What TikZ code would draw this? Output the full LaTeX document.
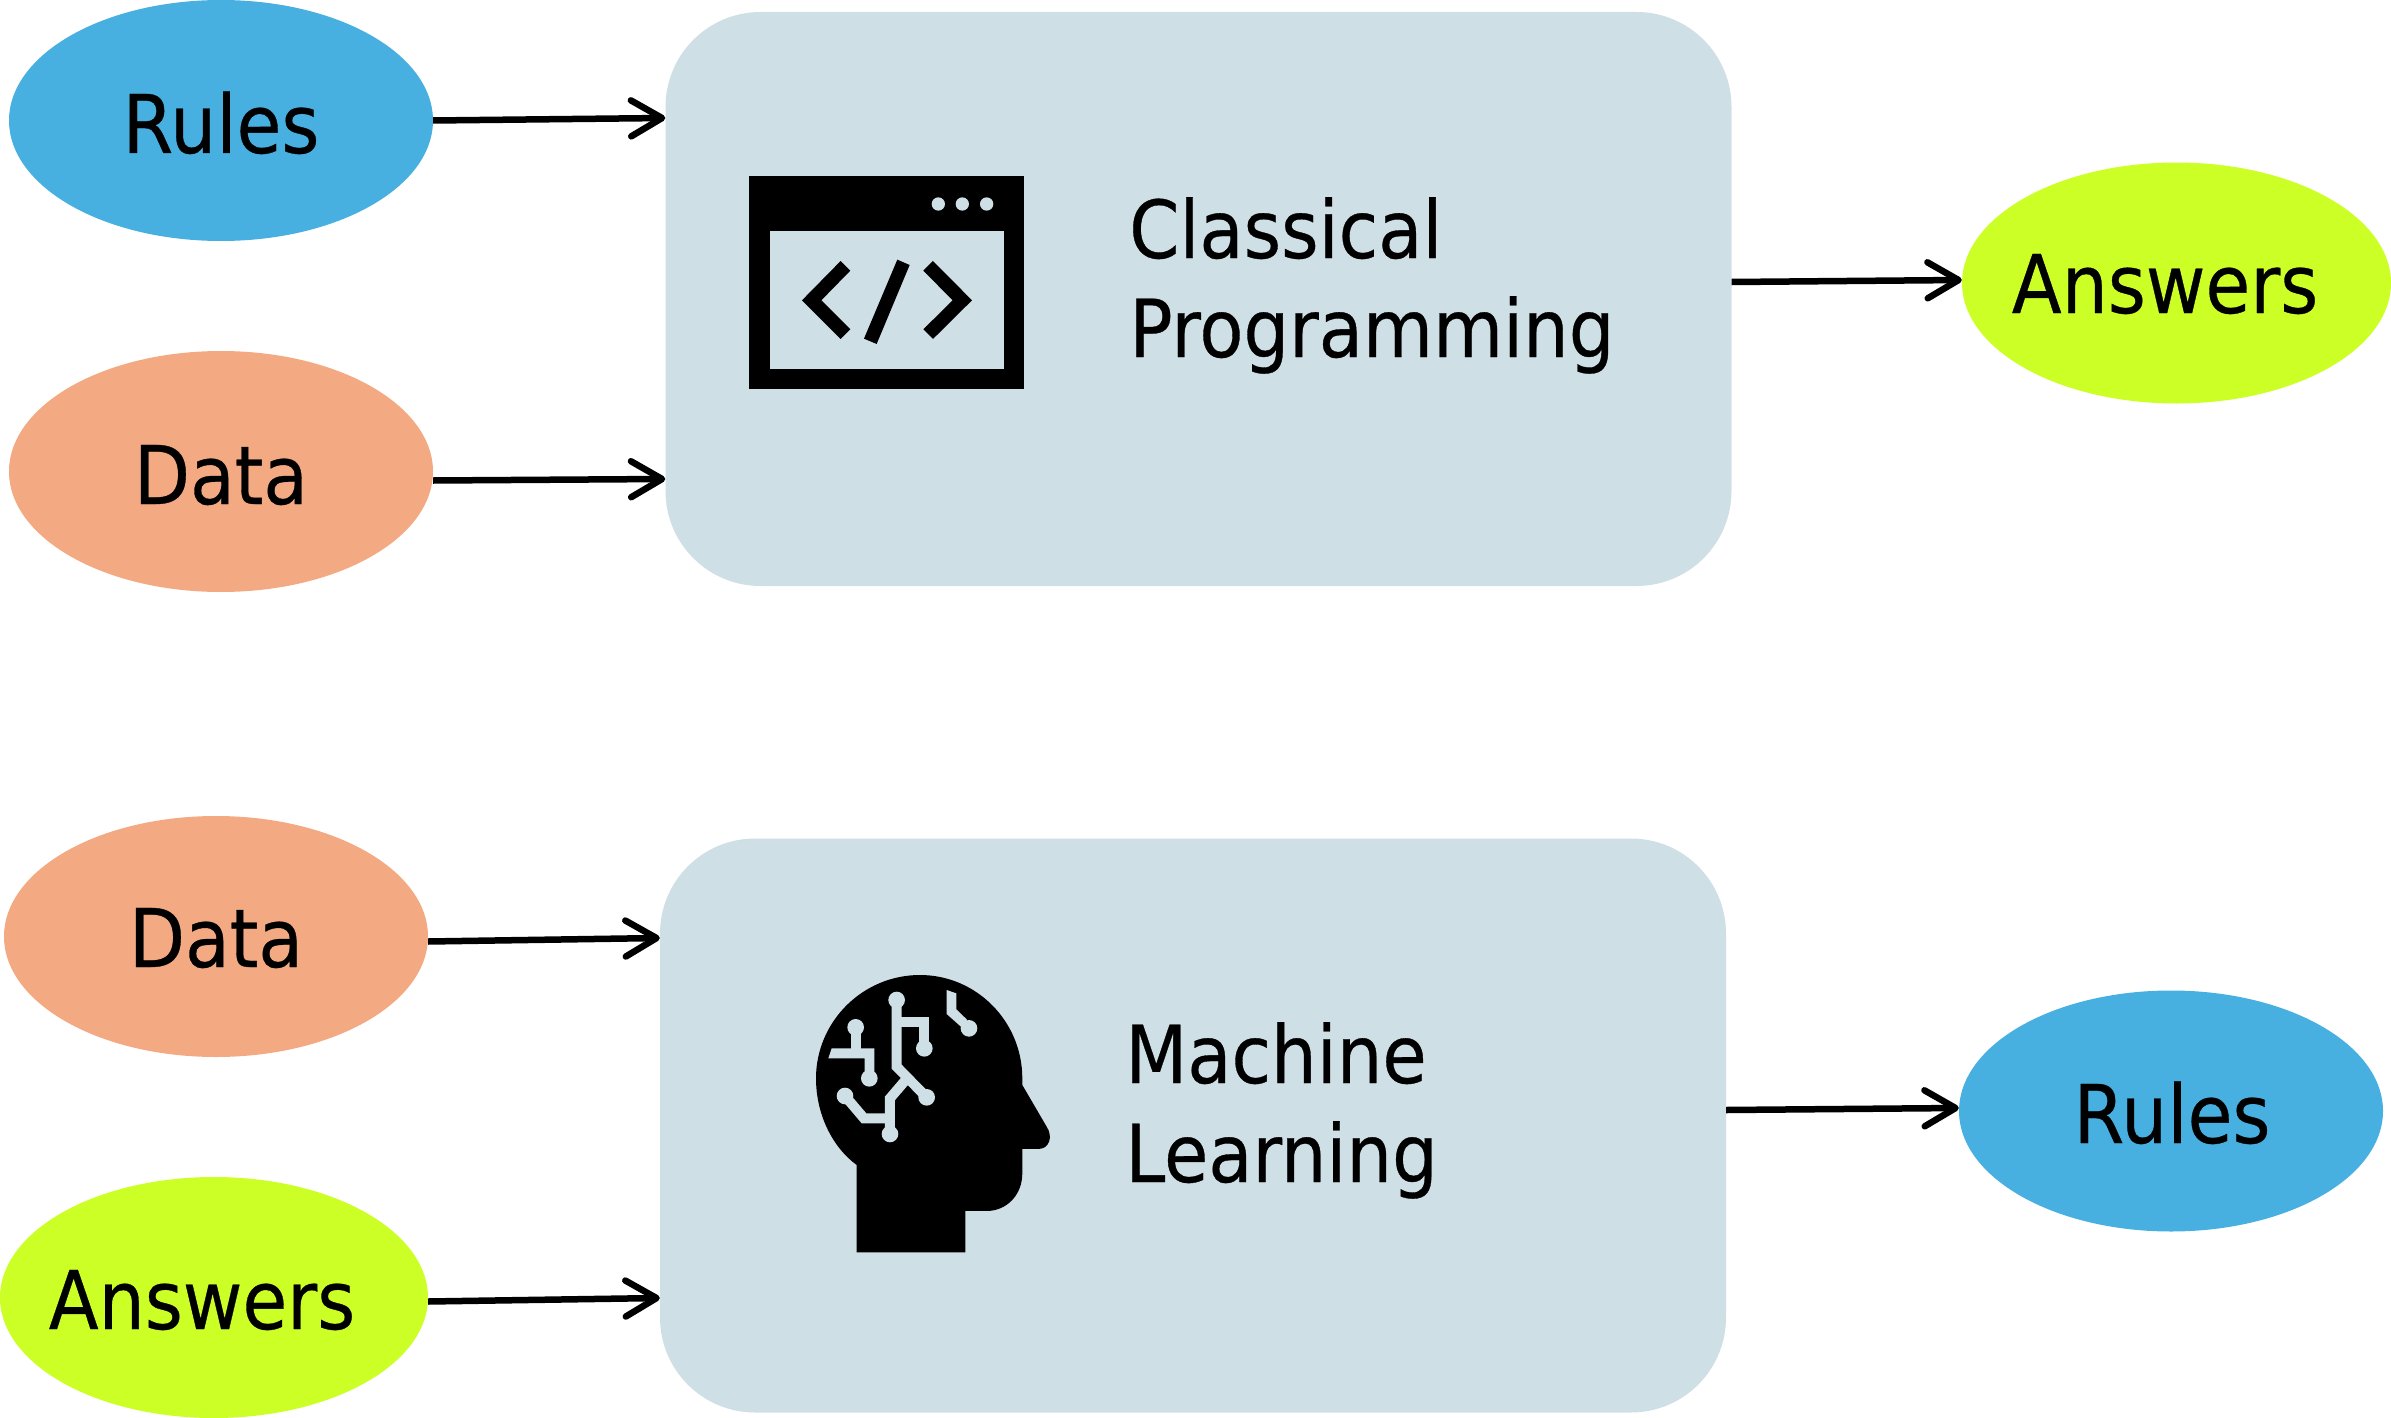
\documentclass[tikz,border=0pt]{standalone}
\usepackage{fontspec}
\setmainfont[FakeStretch=0.9,FakeBold=0.4]{DejaVu Sans}
\usetikzlibrary{shapes.geometric,arrows.meta}
\definecolor{boxc}{HTML}{CFDFE6}
\definecolor{bluec}{HTML}{47B0E0}
\definecolor{orangec}{HTML}{F3AA83}
\definecolor{limec}{HTML}{CCFF26}
\tikzset{
  blob/.style={ellipse,inner sep=0pt,minimum width=424pt,minimum height=241pt},
  panelnode/.style={rectangle,fill=boxc,rounded corners=95pt,minimum width=1066pt,minimum height=574pt,inner sep=0pt},
  lab/.style={anchor=base,inner sep=0pt,font=\fontsize{81}{99}\selectfont},
  multi/.style={anchor=base west,inner sep=0pt,align=left,font=\fontsize{80}{99}\selectfont},
  conn/.style={line width=6.5pt,-{Straight Barb[length=31pt,width=36pt,round]}},
  circ/.style={draw=boxc,line width=10pt,fill=none},
}
\begin{document}
\begin{tikzpicture}[x=1pt,y=-1pt]
\useasboundingbox (0,0) rectangle (2391,1418);
% panels
\node[panelnode] (cp) at (1198.5,299) {};
\node[panelnode] (ml) at (1193,1125.5) {};
% ellipses
\node[blob,fill=bluec] (rulesA) at (221,120.5) {};
\node[blob,fill=orangec] (dataA) at (221,471.5) {};
\node[blob,fill=limec,minimum width=429pt] (ansA) at (2176.5,283) {};
\node[blob,fill=orangec] (dataB) at (216,936.5) {};
\node[blob,fill=limec,minimum width=428pt] (ansB) at (214,1297.5) {};
\node[blob,fill=bluec] (rulesB) at (2171,1111) {};
% labels
\node[lab] (tRulesA) at (221,153) {Rules};
\node[lab] (tDataA) at (221,504) {Data};
\node[lab] (tAnsA) at (2165,313) {Answers};
\node[lab] (tDataB) at (216,967) {Data};
\node[lab] (tAnsB) at (202,1329) {Answers};
\node[lab] (tRulesB) at (2172,1143) {Rules};
\node[multi] (tCP) at (1129,357) {Classical\\Programming};
\node[multi] (tML) at (1125,1182) {Machine\\Learning};
% connector ends
\coordinate (cpR) at (cp.west |- 0,118);
\coordinate (cpD) at (cp.west |- 0,479);
\coordinate (mlD) at (ml.west |- 0,938);
\coordinate (mlA) at (ml.west |- 0,1298);
\draw[conn] (rulesA.east) -- (cpR);
\draw[conn] ([yshift=-9pt]dataA.east) -- (cpD);
\draw[conn] ([yshift=17pt]cp.east) -- ([yshift=3pt]ansA.west);
\draw[conn] ([yshift=-5pt]dataB.east) -- (mlD);
\draw[conn] ([yshift=-4pt]ansB.east) -- (mlA);
\draw[conn] ([yshift=15.5pt]ml.east) -- ([yshift=3pt]rulesB.west);
% window icon
\begin{scope}[shift={(720,150)},x=0.3333pt,y=-0.3333pt]
\fill[black] (88,79) rectangle (913,718);
\fill[boxc] (150,243) rectangle (851,657);
\fill[boxc] (655,162) circle (20pt*0.3333) (727,162) circle (20pt*0.3333) (800,162) circle (20pt*0.3333);
\fill[black] (362,333) -- (391,362) -- (304,451) -- (391,538) -- (362,567) -- (246,451) -- cycle;
\fill[black] (532,329) -- (569,345) -- (470,582) -- (432,566) -- cycle;
\fill[black] (639,333) -- (610,362) -- (698,451) -- (610,538) -- (639,567) -- (756,451) -- cycle;
\end{scope}
% head icon
\begin{scope}[shift={(790,950)},x=0.3333pt,y=-0.3333pt]
\fill[black] (200,907) -- (200,645) .. controls (125,590) and (78,490) .. (78,385)
  .. controls (78,215) and (218,75) .. (390,75)
  .. controls (560,75) and (697,215) .. (697,385) -- (697,405) -- (770,530)
  .. controls (790,560) and (778,597) .. (745,597) -- (697,597) -- (697,670)
  .. controls (697,735) and (650,783) .. (590,783) -- (526,783) -- (526,907) -- cycle;
\draw[circ] (320,150) -- (320,350) -- (410,442);
\draw[circ] (320,216) -- (403,216) -- (403,295);
\draw[circ] (347,390) -- (300,445) -- (300,552);
\draw[circ] (165,438) -- (222,505) -- (300,505);
\draw[circ] (197,232) -- (197,310);
\fill[boxc] (125,295) -- (253,295) -- (253,385) -- (224,385) -- (224,325) -- (115,325) -- cycle;
\fill[boxc] (470,120) -- (499,130) -- (499,178) -- (530,208) -- (537,235) -- (515,232) -- (470,192) -- cycle;
\foreach \p/\q in {320/150,403/295,410/442,300/552,165/438,197/232,238/385,537/235}
  \fill[boxc] (\p,\q) circle (25*0.3333pt);
\end{scope}
\end{tikzpicture}
\end{document}
